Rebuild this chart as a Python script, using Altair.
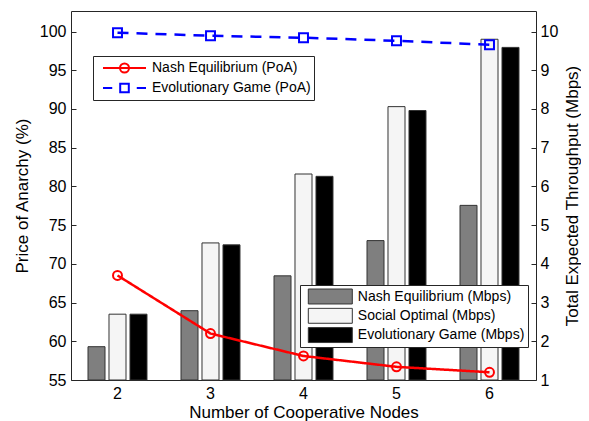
import altair as alt
import pandas as pd

# ---- data ----
nodes = [2, 3, 4, 5, 6]
ne_poa = [68.5, 61.0, 58.1, 56.7, 56.0]
eg_poa = [99.85, 99.45, 99.2, 98.8, 98.3]
ne_mbps = [1.86, 2.79, 3.69, 4.60, 5.51]
so_mbps = [2.70, 4.54, 6.32, 8.06, 9.80]
eg_mbps = [2.70, 4.49, 6.26, 7.96, 9.59]

line_series = ["Nash Equilibrium (PoA)", "Evolutionary Game (PoA)"]
bar_series = ["Nash Equilibrium (Mbps)", "Social Optimal (Mbps)", "Evolutionary Game (Mbps)"]
left_ticks = [55, 60, 65, 70, 75, 80, 85, 90, 95, 100]
right_ticks = [1, 2, 3, 4, 5, 6, 7, 8, 9, 10]

line_df = pd.DataFrame(
    [{"node": n, "series": line_series[0], "poa": v} for n, v in zip(nodes, ne_poa)]
    + [{"node": n, "series": line_series[1], "poa": v} for n, v in zip(nodes, eg_poa)]
)
bar_df = pd.DataFrame(
    [{"node": n, "series": bar_series[0], "mbps": v} for n, v in zip(nodes, ne_mbps)]
    + [{"node": n, "series": bar_series[1], "mbps": v} for n, v in zip(nodes, so_mbps)]
    + [{"node": n, "series": bar_series[2], "mbps": v} for n, v in zip(nodes, eg_mbps)]
)

W, H = 465, 369
FONT = "Liberation Sans"
DARK = "#262626"
RED, BLUE = "#ff0000", "#0000ff"

x_enc = alt.X(
    "node:O",
    scale=alt.Scale(paddingInner=0, paddingOuter=0),
    axis=alt.Axis(
        title="Number of Cooperative Nodes", labelAngle=0, domain=False, grid=False,
        tickSize=5, offset=-5, labelPadding=5, bandPosition=0.5,
        titleX=W / 2, titleY=37.5, titleAlign="center", titleBaseline="middle",
    ),
)

bars = alt.Chart(bar_df).mark_bar(stroke="#333333", strokeWidth=1).encode(
    x=x_enc,
    xOffset=alt.XOffset("series:N", scale=alt.Scale(domain=bar_series, paddingInner=0.19, paddingOuter=0.81)),
    y=alt.Y(
        "mbps:Q",
        scale=alt.Scale(domain=[1, 10.53], nice=False, zero=False),
        axis=alt.Axis(
            orient="right", values=right_ticks, title="Total Expected Throughput (Mbps)",
            domain=False, grid=False, tickSize=5, offset=-5, labelPadding=4,
            titleX=41, titleY=H / 2, titleAngle=270, titleAlign="center", titleBaseline="middle",
        ),
    ),
    y2=alt.datum(1),
    fill=alt.Fill(
        "series:N",
        scale=alt.Scale(domain=bar_series, range=["#7f7f7f", "#f5f5f5", "#000000"]),
        legend=alt.Legend(
            title=None, orient="none", legendX=229, legendY=274,
            symbolType="M-1,-0.34H1V0.34H-1Z", symbolSize=1936,
            symbolStrokeColor="#333333", symbolStrokeWidth=1,
            clipHeight=17, rowPadding=2.3, padding=3,
            symbolOffset=4.8, labelOffset=5, labelLimit=400,
            labelExpr="datum.label + '   '",
            labelFont=FONT, labelFontSize=14, labelColor="#000000",
            strokeColor=DARK, fillColor="white",
        ),
    ),
)

ne_path = "M-1,0H1M-0.21,0A0.21,0.21,0,1,0,0.21,0A0.21,0.21,0,1,0,-0.21,0"
eg_path = "M-1,0H-0.57M0.57,0H1M-0.2,-0.2H0.2V0.2H-0.2Z"

y_left = alt.Y(
    "poa:Q",
    scale=alt.Scale(domain=[55, 102.65], nice=False, zero=False),
    axis=alt.Axis(
        orient="left", values=left_ticks, title="Price of Anarchy (%)",
        domain=False, grid=False, tickSize=5, offset=-5, labelPadding=5,
        titleX=-54, titleY=H / 2, titleAngle=270, titleAlign="center", titleBaseline="middle",
    ),
)
is_ne = alt.datum.series == line_series[0]

lines = alt.Chart(line_df).mark_line(strokeWidth=2.5).encode(
    x=x_enc,
    y=y_left,
    detail="series:N",
    color=alt.condition(is_ne, alt.value(RED), alt.value(BLUE)),
    strokeDash=alt.condition(is_ne, alt.value([1, 0]), alt.value([11, 8])),
)

points = alt.Chart(line_df).mark_point(filled=False, strokeWidth=2, size=80, opacity=1).encode(
    x=x_enc,
    y=y_left,
    color=alt.condition(is_ne, alt.value(RED), alt.value(BLUE)),
    shape=alt.condition(is_ne, alt.value("circle"), alt.value("square")),
)

line_legend = alt.Legend(
    title=None, orient="none", legendX=22, legendY=45,
    symbolSize=1849, symbolStrokeWidth=2, symbolFillColor="transparent",
    clipHeight=18, rowPadding=2, padding=3,
    symbolOffset=6, labelOffset=5, labelLimit=400,
    labelFont=FONT, labelFontSize=14, labelColor="#000000",
    labelExpr="datum.label + '   '",
    strokeColor=DARK, fillColor="white",
)

legend_layer = alt.Chart(line_df).transform_filter("datum.poa < 0").mark_point(
    filled=False, strokeWidth=2, opacity=1
).encode(
    x=x_enc,
    y=y_left,
    color=alt.Color("series:N", scale=alt.Scale(domain=line_series, range=[RED, BLUE]), legend=line_legend),
    shape=alt.Shape("series:N", scale=alt.Scale(domain=line_series, range=[ne_path, eg_path]), legend=line_legend),
)

chart = alt.layer(bars, alt.layer(lines, points, legend_layer)).resolve_scale(y="independent").properties(
    width=W, height=H,
    autosize=alt.AutoSizeParams(type="none"),
    padding={"left": 63, "top": 3, "right": 45, "bottom": 41},
    background="white",
).configure_view(stroke=DARK, strokeWidth=1).configure_axis(
    labelFont=FONT, labelFontSize=16, labelColor="#000000",
    titleFont=FONT, titleFontSize=17, titleFontWeight="normal", titleColor="#000000",
    tickColor=DARK, tickWidth=1,
)

chart.save("out.html", embed_options={"renderer": "svg", "actions": False})
